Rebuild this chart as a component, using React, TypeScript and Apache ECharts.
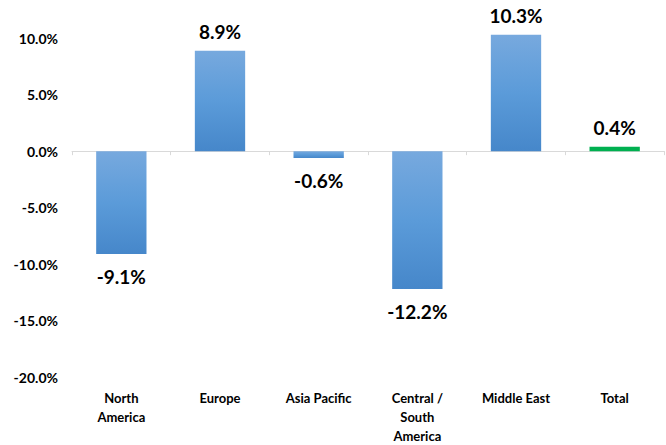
import React, { useEffect, useRef } from "react";
import * as echarts from "echarts";

const categories = ["North\nAmerica", "Europe", "Asia Pacific", "Central /\nSouth\nAmerica", "Middle East", "Total"];
const values = [-9.1, 8.9, -0.6, -12.2, 10.3, 0.4];
const totalIndex = 5;
const yMin = -20;
const yMax = 12.5;
const yInterval = 5;

const blueGrad = () =>
  new echarts.graphic.LinearGradient(0, 0, 0, 1, [
    { offset: 0, color: "#77a9de" },
    { offset: 0.5, color: "#5b9bd9" },
    { offset: 1, color: "#4687ca" },
  ]);

export default function App() {
  const ref = useRef<HTMLDivElement>(null);
  useEffect(() => {
    if (!ref.current) return;
    const chart = echarts.init(ref.current, undefined, { renderer: "svg" });
    const font = "Lato, 'Open Sans', sans-serif";
    chart.setOption({
      animation: false,
      grid: { left: 72, right: 2, top: 10, bottom: 67, containLabel: false },
      xAxis: [
        {
          type: "category",
          data: categories,
          position: "bottom",
          axisLine: { show: false, onZero: false },
          axisTick: { show: false },
          axisLabel: {
            color: "#000",
            fontFamily: font,
            fontWeight: "bold",
            fontSize: 13,
            lineHeight: 19,
            margin: 11,
            interval: 0,
          },
        },
        {
          type: "category",
          data: categories,
          position: "bottom",
          axisLine: { show: true, onZero: true, lineStyle: { color: "#d9d9d9", width: 1 } },
          axisTick: { show: true, length: 4, lineStyle: { color: "#d9d9d9" } },
          axisLabel: { show: false },
        },
      ],
      yAxis: {
        type: "value",
        min: yMin,
        max: yMax,
        interval: yInterval,
        axisLine: { show: false },
        axisTick: { show: false },
        splitLine: { show: false },
        axisLabel: {
          showMaxLabel: false,
          color: "#000",
          fontFamily: font,
          fontWeight: "bold",
          fontSize: 14,
          margin: 14,
          formatter: (v: number) => v.toFixed(1) + "%",
        },
      },
      series: [
        {
          type: "bar",
          xAxisIndex: 0,
          barWidth: "51%",
          data: values.map((v, i) => ({
            value: v,
            itemStyle: { color: i === totalIndex ? "#00b050" : blueGrad() },
            label: { position: v >= 0 ? "top" : "bottom", distance: v >= 0 ? 10 : 13 },
          })),
          label: {
            show: true,
            color: "#000",
            fontFamily: font,
            fontWeight: "bold",
            fontSize: 19,
            formatter: (p: any) => p.value.toFixed(1) + "%",
          },
        },
      ],
    });
    return () => chart.dispose();
  }, []);
  return <div ref={ref} style={{ width: 666, height: 445, position: "absolute", left: 0, top: 0 }} />;
}
